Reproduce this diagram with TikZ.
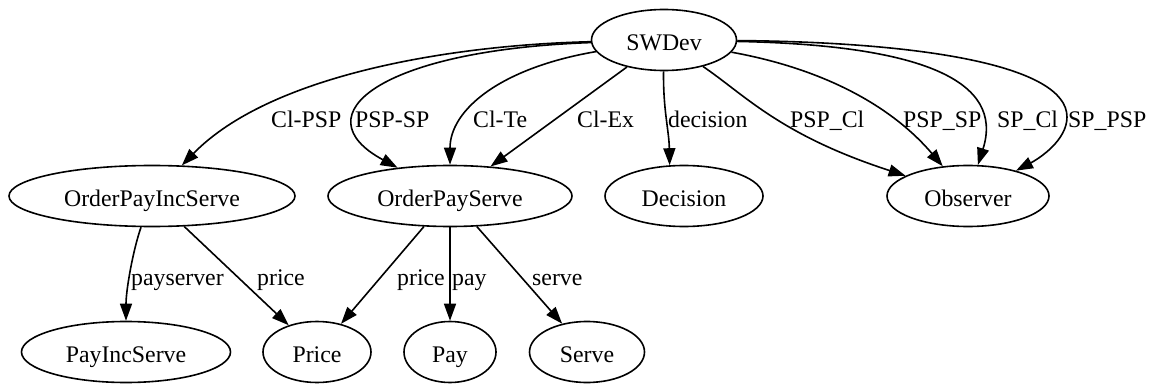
\documentclass[tikz,border=0pt]{standalone}
\usepackage{fontspec}
\setmainfont{Liberation Serif}
\usetikzlibrary{shapes.geometric,arrows.meta}
\begin{document}
\begin{tikzpicture}[x=1pt,y=-1pt,
  every node/.style={font=\fontsize{23.8pt}{28pt}\selectfont},
  gnode/.style={draw, ellipse, line width=1.6pt, inner sep=0pt, minimum height=61pt, text height=21pt, text depth=0pt},
  edge/.style={line width=1.6pt, -{Triangle[length=17pt,width=12pt]}},
  elabel/.style={anchor=base west, inner sep=0pt}]
\useasboundingbox (0,0) rectangle (1154,385);
% nodes
\node[gnode, minimum width=145pt] (SWDev) at (664,40) {SWDev};
\node[gnode, minimum width=286pt] (OPIS) at (152,196) {OrderPayIncServe};
\node[gnode, minimum width=244pt] (OPS) at (450,196) {OrderPayServe};
\node[gnode, minimum width=158pt] (Decision) at (684,196) {Decision};
\node[gnode, minimum width=162pt] (Observer) at (968,196) {Observer};
\node[gnode, minimum width=209pt] (PayIncServe) at (126,352) {PayIncServe};
\node[gnode, minimum width=108pt] (Price) at (317,352) {Price};
\node[gnode, minimum width=92pt] (Pay) at (450,352) {Pay};
\node[gnode, minimum width=115pt] (Serve) at (587,352) {Serve};
% edges from SWDev
\draw[edge] (SWDev) .. controls (450,45) and (270,75) .. (OPIS);
\draw[edge] (SWDev) .. controls (380,50) and (300,115) .. (OPS);
\draw[edge] (SWDev) .. controls (500,68) and (450,110) .. (OPS);
\draw[edge] (SWDev) -- (OPS);
\draw[edge] (SWDev) .. controls (663,110) and (669,130) .. (Decision.115);
\draw[edge] (SWDev) .. controls (745,95) and (780,135) .. (Observer);
\draw[edge] (SWDev) .. controls (830,70) and (895,110) .. (Observer);
\draw[edge] (SWDev) .. controls (920,45) and (1005,80) .. (Observer);
\draw[edge] (SWDev) .. controls (920,42) and (1067,65) .. (1067,117) .. controls (1067,140) and (1040,158) .. (Observer);
% lower edges
\draw[edge] (OPIS) .. controls (133,250) and (126,290) .. (PayIncServe);
\draw[edge] (OPIS) -- (Price);
\draw[edge] (OPS) -- (Price);
\draw[edge] (OPS) -- (Pay);
\draw[edge] (OPS) -- (Serve);
% edge labels
\node[elabel] (l1) at (271,128) {Cl-PSP};
\node[elabel] (l2) at (355,128) {PSP-SP};
\node[elabel] (l3) at (473,128) {Cl-Te};
\node[elabel] (l4) at (577,128) {Cl-Ex};
\node[elabel] (l5) at (668,128) {decision};
\node[elabel] (l6) at (790,128) {PSP\_Cl};
\node[elabel] (l7) at (903,128) {PSP\_SP};
\node[elabel] (l8) at (997,128) {SP\_Cl};
\node[elabel] (l9) at (1068,128) {SP\_PSP};
\node[elabel] (l10) at (131,285) {payserver};
\node[elabel] (l11) at (257,285) {price};
\node[elabel] (l12) at (397,285) {price};
\node[elabel] (l13) at (452,285) {pay};
\node[elabel] (l14) at (532,285) {serve};
\end{tikzpicture}
\end{document}
